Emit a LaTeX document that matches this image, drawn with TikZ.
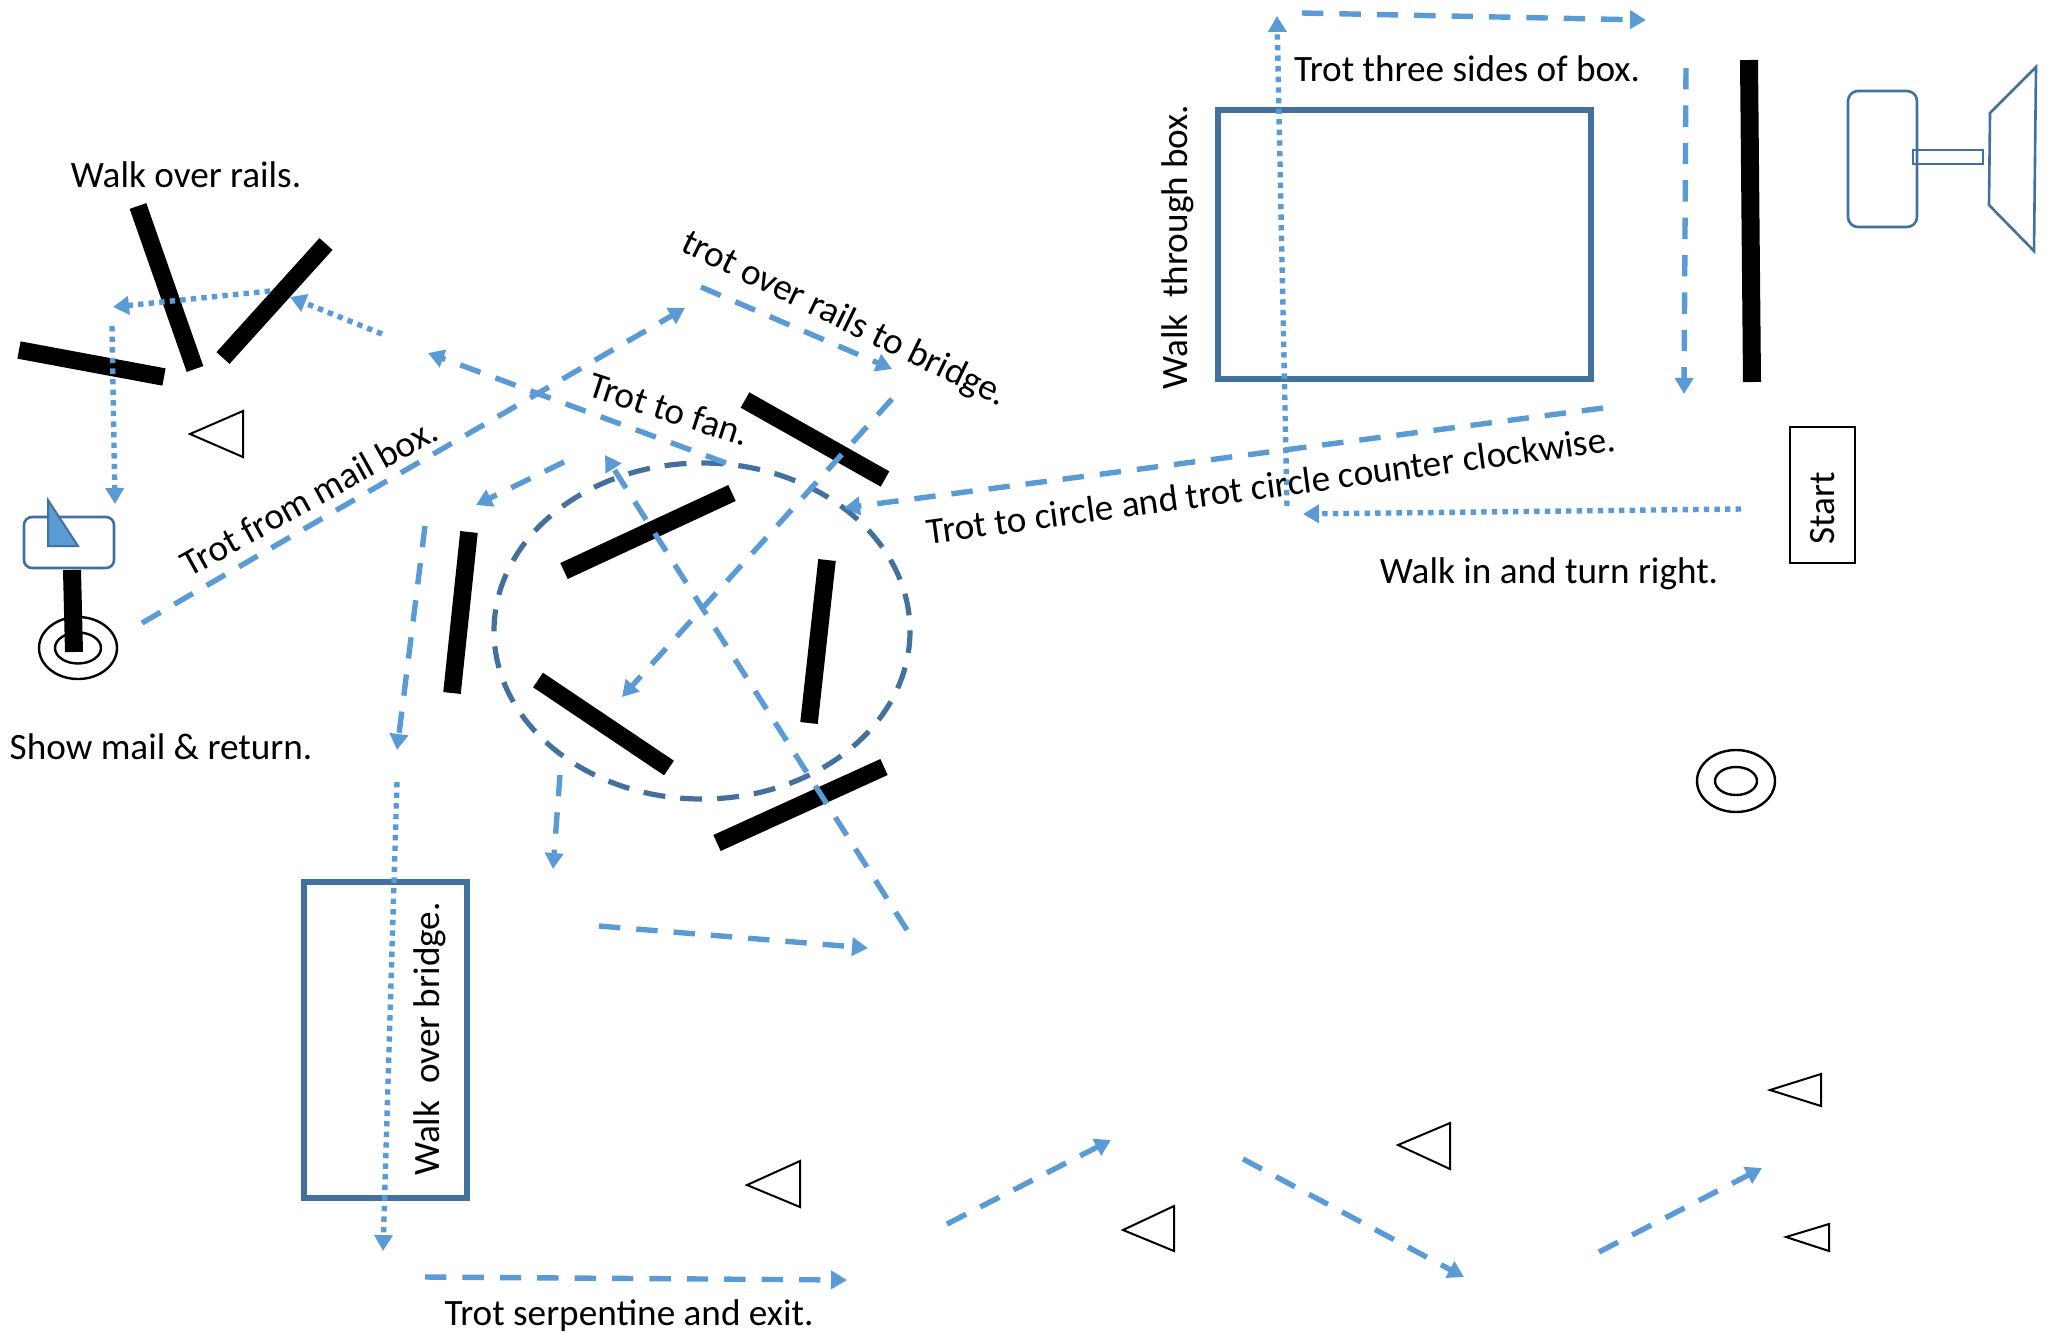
\documentclass[tikz,border=0pt]{standalone}
\usepackage{fontspec}
\setmainfont{Carlito}
\usetikzlibrary{arrows.meta}
\definecolor{flowblue}{HTML}{5B9BD5}
\definecolor{darkblue}{HTML}{41719C}
\newcommand{\flowline}[4]{\coordinate (#2-a) at (#3); \coordinate (#2-b) at (#4); \draw[#1] (#2-a) -- (#2-b);}
\tikzset{
  dashflow/.style={draw=flowblue,line width=2.7pt,dash pattern=on 10.7pt off 8pt,-{Triangle[length=8pt,width=9pt]}},
  dotflow/.style={draw=flowblue,line width=2.7pt,dash pattern=on 2.7pt off 2.6pt,-{Triangle[length=8pt,width=9pt]}},
  rail/.style={draw=black,line width=8.8pt},
  cone/.style={draw=black,line width=1pt,line join=miter,fill=white},
  outline/.style={draw=darkblue,line width=2.6pt,outer sep=0pt},
  thin outline/.style={draw=darkblue,line width=1.3pt,outer sep=0pt},
  label/.style={font=\fontsize{18.6}{20}\selectfont,text=black,inner sep=0pt}
}
\begin{document}
\begin{tikzpicture}[x=0.5pt,y=-0.5pt]
\useasboundingbox (0,0) rectangle (2062,1335);
% boxes
\node[outline,rectangle,minimum width=186.5pt,minimum height=134.5pt,anchor=north west,inner sep=0pt] (boxbig) at (1218,110) {};
\node[outline,rectangle,minimum width=81.5pt,minimum height=158pt,anchor=north west,inner sep=0pt] (bridge) at (304,882) {};
% cones
\foreach \n/\a/\b/\c/\d/\e/\f in {c1/190/434/243/411/243/457, c2/747/1185/800/1161/800/1207, c3/1123/1230/1174/1206/1174/1251, c4/1398/1145/1450/1123/1450/1169, c5/1770/1090/1821/1074/1821/1106, c6/1786/1237/1829/1224/1829/1251}
  \draw[cone] (\a,\b) -- (\c,\d) -- (\e,\f) -- cycle;
% mail-box ellipses
\draw[black,line width=1.2pt] (78,648) ellipse [x radius=39,y radius=31];
\draw[black,line width=1.2pt] (78,648) ellipse [x radius=23,y radius=15.5];
\draw[black,line width=1.2pt] (1736,781) ellipse [x radius=39,y radius=31];
\draw[black,line width=1.2pt] (1736,781) ellipse [x radius=21,y radius=14];
% rails
\flowline{rail}{ra}{138,206}{195,369}
\flowline{rail}{rb}{326,244}{223,358}
\flowline{rail}{rc}{19,350}{164,377}
\flowline{rail,line width=9pt}{post}{72,570}{74,652}
\flowline{rail}{rd}{469,532}{452,693}
\flowline{rail}{re}{745,400}{885,479}
\flowline{rail}{rf}{732,493}{564,571}
\flowline{rail}{rg}{827,560}{809,723}
\flowline{rail}{rh}{538,680}{669,768}
\flowline{rail}{ri}{884,767}{717,843}
\flowline{rail,line width=9pt}{rj}{1749,60}{1752,382}
% mail box sign
\node[thin outline,rectangle,rounded corners=4pt,fill=white,minimum width=45pt,minimum height=25.5pt,anchor=north west,inner sep=0pt] (sign) at (24,517) {};
\draw[draw=darkblue,line width=1pt,fill=flowblue] (48,500) -- (48,546) -- (78,546) -- cycle;
% fan
\node[thin outline,rectangle,rounded corners=5pt,minimum width=34.5pt,minimum height=68pt,anchor=north west,inner sep=0pt] (fanbody) at (1848,91) {};
\node[thin outline,rectangle,minimum width=35pt,minimum height=7pt,anchor=north west,inner sep=0pt] (fanneck) at (1913,150) {};
\draw[thin outline,line join=miter] (1990,113) -- (2036,67) -- (2034,251) -- (1989,205) -- cycle;
% start
\node[draw=black,line width=1pt,outer sep=0pt,rectangle,minimum width=32.5pt,minimum height=68pt,anchor=north west,inner sep=0pt] (startbox) at (1790,427) {};
% circle
\draw[draw=darkblue,line width=2.6pt,dash pattern=on 11pt off 7.5pt] (702,631) ellipse [x radius=208,y radius=168];
% flows
\flowline{dashflow}{f1}{1302,13}{1646,20}
\flowline{dashflow}{f2}{1686,68}{1684,394}
\flowline{dotflow}{f3}{1741,509}{1303,514}
\flowline{dotflow}{f4}{1287,506}{1277,16}
\flowline{dashflow}{f5}{1603,408}{844,508}
\flowline{dashflow}{f6}{701,287}{892,369}
\flowline{dashflow}{f7}{892,399}{622,697}
\flowline{dashflow}{f8}{142,623}{685,308}
\flowline{dashflow}{f9}{726,463}{428,353}
\flowline{dotflow}{f10}{382,334}{290,297}
\flowline{dotflow}{f11}{270,291}{113,307}
\flowline{dotflow}{f12}{112,326}{115,504}
\flowline{dashflow}{f13}{564,462}{476,505}
\flowline{dashflow}{f14}{425,526}{397,750}
\flowline{dotflow}{f15}{397,782}{383,1251}
\flowline{dashflow}{f16}{907,930}{605,455}
\flowline{dashflow}{f17}{560,775}{553,869}
\flowline{dashflow}{f18}{599,926}{868,948}
\flowline{dashflow}{f19}{425,1277}{847,1280}
\flowline{dashflow}{f20}{947,1224}{1111,1140}
\flowline{dashflow}{f21}{1243,1159}{1464,1277}
\flowline{dashflow}{f22}{1599,1252}{1762,1168}
% labels
\node[label] (t1) at (186,175) {Walk over rails.};
\node[label] (t2) at (161,747) {Show mail \& return.};
\node[label,rotate=29] (t3) at (309,497) {Trot from mail box.};
\node[label,rotate=-26] (t4) at (844,320) {trot over rails to bridge.};
\node[label,rotate=-18] (t5) at (669,409) {Trot to fan.};
\node[label,rotate=7.7] (t6) at (1271,485) {Trot to circle and trot circle counter clockwise.};
\node[label] (t7) at (1549,574) {Walk in and turn right.};
\node[label] (t8) at (1467,69) {Trot three sides of box.};
\node[label,rotate=90] (t9) at (1178,247) {Walk\ \ through box.};
\node[label,rotate=90] (t10) at (430,1039) {Walk\ \ over bridge.};
\node[label] (t11) at (629,1316) {Trot serpentine and exit.};
\node[label,rotate=90] (t12) at (1823,508) {Start};
\end{tikzpicture}
\end{document}
